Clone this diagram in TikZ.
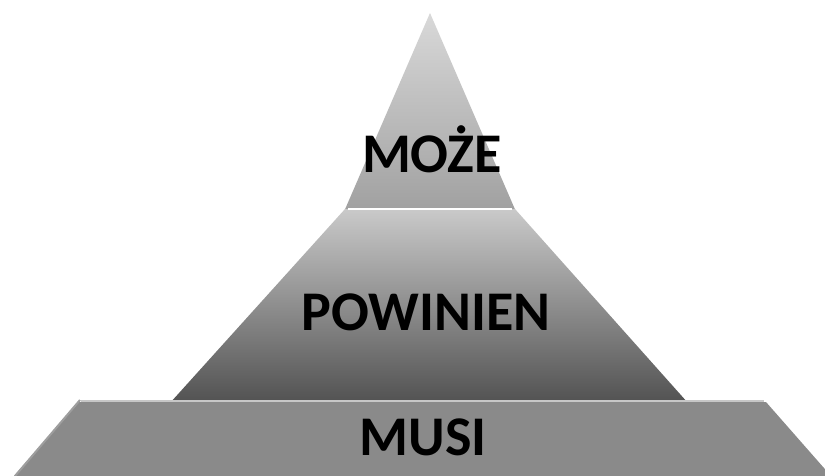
\documentclass[tikz,border=0pt]{standalone}
\usepackage{fontspec}
\setmainfont{Carlito}
\begin{document}
\begin{tikzpicture}[x=1pt,y=-1pt,
  lbl/.style={font=\fontsize{56}{62}\selectfont\bfseries, text=black, inner sep=0pt, anchor=base},
  hl/.style={line width=2.5pt, line cap=butt}]
\useasboundingbox (0,0) rectangle (825,475);
% top triangle
\coordinate (apex) at (430,13);
\coordinate (tl) at (343,214);
\coordinate (tr) at (517,214);
\shade[top color=gray!30, bottom color=gray!75] (apex) -- (tr) -- (tl) -- cycle;
% middle band
\coordinate (ml1) at (345,209);
\coordinate (mr1) at (515,209);
\coordinate (mr2) at (688,403);
\coordinate (ml2) at (170,403);
\shade[top color=gray!42, bottom color=black!68] (ml1) -- (mr1) -- (mr2) -- (ml2) -- cycle;
\draw[white, hl, line width=2pt] ([xshift=3]ml1) -- ([xshift=-3]mr1);
% bottom band
\coordinate (bl1) at (79,402);
\coordinate (br1) at (766,402);
\coordinate (br2) at (831,476);
\coordinate (bl2) at (14,476);
\fill[black!46] (bl1) -- (br1) -- (br2) -- (bl2) -- cycle;
\draw[black!22, hl] ([xshift=2,yshift=1]bl1) -- ([xshift=-2,yshift=1]br1);
\draw[black!38, line width=2pt] ([xshift=1,yshift=2]bl1) -- ([xshift=1]bl2);
% labels
\node[lbl] (moze) at (432,172) {MOŻE};
\node[lbl] (powinien) at (426,330) {POWINIEN};
\node[lbl] (musi) at (423,455) {MUSI};
\end{tikzpicture}
\end{document}
